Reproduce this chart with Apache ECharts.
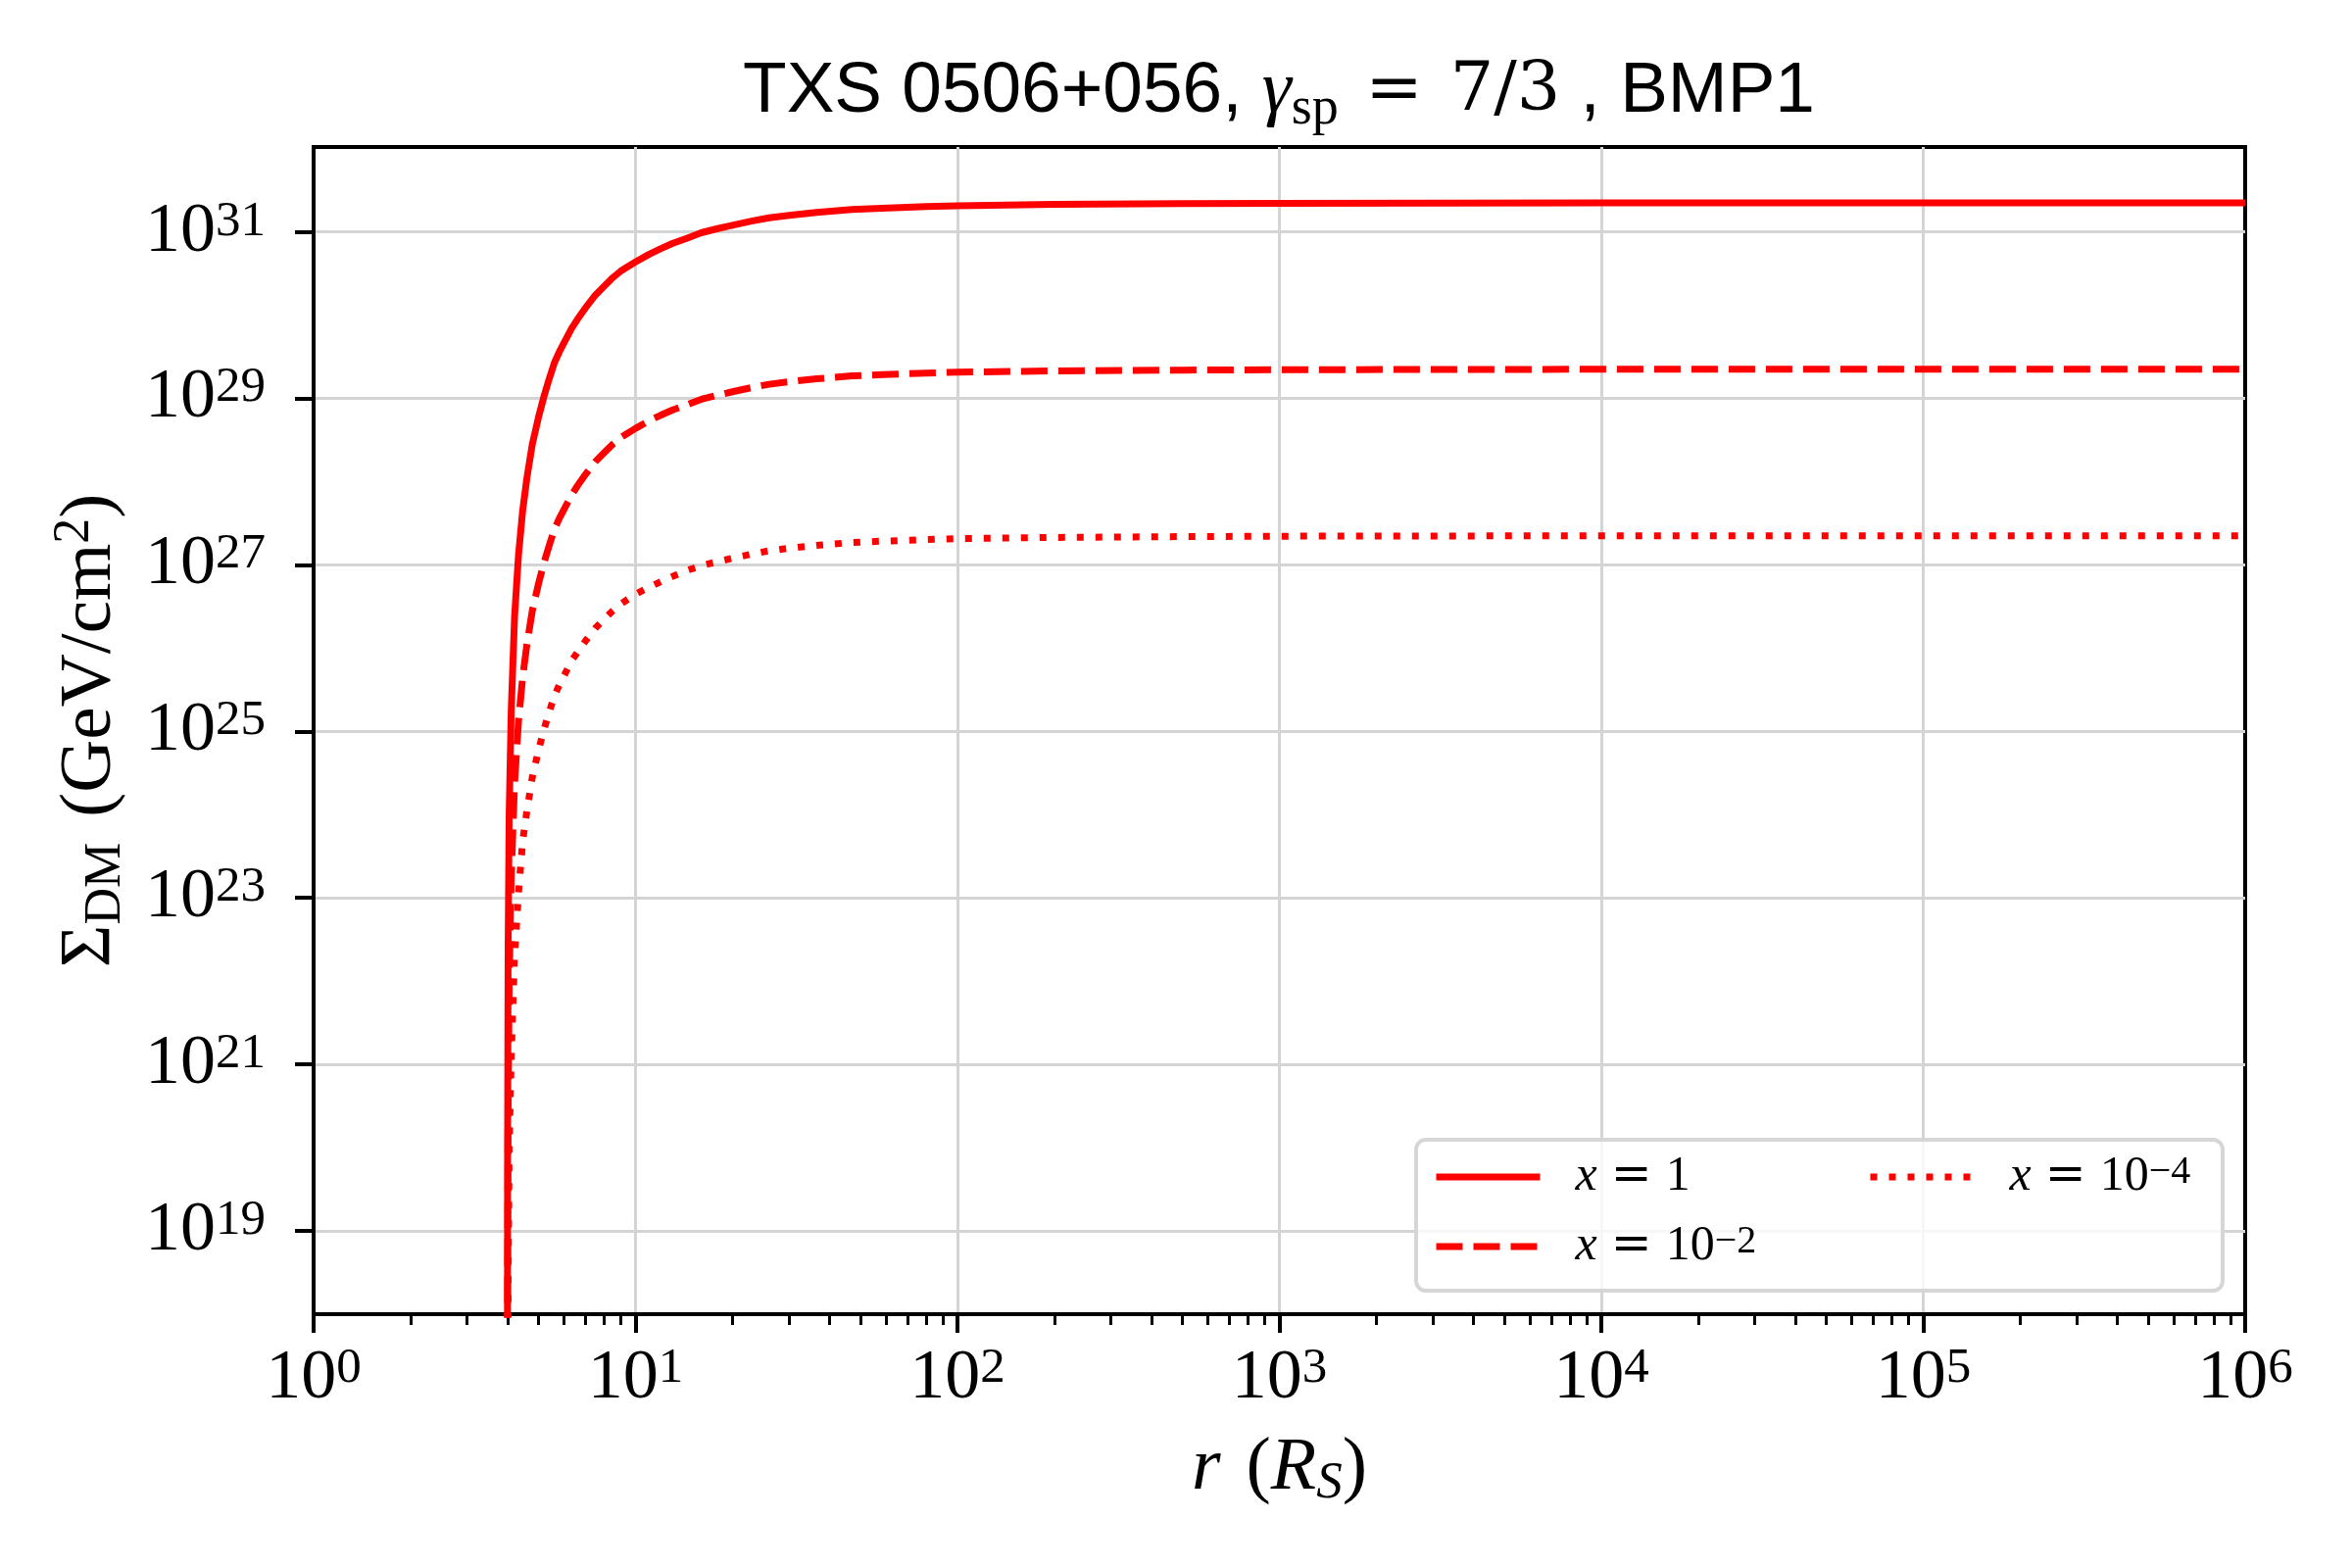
<!DOCTYPE html>
<html>
<head>
<meta charset="utf-8">
<script src="https://cdn.jsdelivr.net/npm/echarts@6/dist/echarts.min.js"></script>
<style>
html,body{margin:0;padding:0;background:#ffffff;}
#chart{width:2400px;height:1600px;}
</style>
</head>
<body>
<div id="chart"></div>
<script>
// ---- data (r in units of R_S, values are log10 of Sigma_DM in GeV/cm^2) ----
const rValues = [4.0015, 4.005, 4.02, 4.05, 4.11, 4.21, 4.33, 4.46, 4.6, 4.78, 5.0, 5.2, 5.38, 5.6, 5.8, 6.0, 6.33, 6.6, 7.0, 7.5, 8.0, 8.5, 9.0, 10, 11, 12, 13, 14.35, 16, 18, 20, 22.9, 26, 30, 36.5, 47, 58.3, 80, 100, 200, 500, 1000, 1e4, 1e5, 1e6];
const logSigmaX1 = [17.9, 20.0, 22.4, 24.0, 25.25, 26.38, 27.12, 27.65, 28.05, 28.45, 28.78, 29.03, 29.22, 29.43, 29.56, 29.67, 29.84, 29.95, 30.09, 30.24, 30.35, 30.45, 30.53, 30.64, 30.73, 30.8, 30.86, 30.92, 30.99, 31.04, 31.08, 31.13, 31.17, 31.2, 31.235, 31.27, 31.285, 31.305, 31.315, 31.33, 31.34, 31.343, 31.348, 31.35, 31.35];
const logSigmaX1em2 = [15.9, 18.0, 20.4, 22.0, 23.25, 24.38, 25.12, 25.65, 26.05, 26.45, 26.78, 27.03, 27.22, 27.43, 27.56, 27.67, 27.84, 27.95, 28.09, 28.24, 28.35, 28.45, 28.53, 28.64, 28.73, 28.8, 28.86, 28.92, 28.99, 29.04, 29.08, 29.13, 29.17, 29.2, 29.235, 29.27, 29.285, 29.305, 29.315, 29.33, 29.34, 29.345, 29.35, 29.35, 29.35];
const logSigmaX1em4 = [13.9, 16.0, 18.4, 20.0, 21.1, 22.3, 23.06, 23.68, 24.05, 24.45, 24.78, 25.03, 25.22, 25.43, 25.56, 25.67, 25.85, 25.95, 26.09, 26.24, 26.35, 26.45, 26.53, 26.65, 26.73, 26.8, 26.86, 26.93, 26.99, 27.04, 27.08, 27.13, 27.17, 27.2, 27.235, 27.27, 27.285, 27.305, 27.315, 27.33, 27.34, 27.345, 27.35, 27.35, 27.35];

const seriesNames = ['x = 1', 'x = 10^-2', 'x = 10^-4'];
const legendSup = {'x = 10^-2': '\u22122', 'x = 10^-4': '\u22124'};
const xTickExponents = [0, 1, 2, 3, 4, 5, 6];
const yTickExponents = [19, 21, 23, 25, 27, 29, 31];
const xMinorTicks = [];
for (let d = 0; d < 6; d++) { for (let k = 2; k <= 9; k++) { xMinorTicks.push(d + Math.log10(k)); } }

const SERIF = "'Liberation Serif', 'DejaVu Serif', serif";
const SERIF2 = "'DejaVu Serif', 'Liberation Serif', serif";
const SANS = "'Liberation Sans', 'DejaVu Sans', sans-serif";
const N = 'normal';

const toPairs = (vals) => rValues.map((r, i) => [Math.log10(r), vals[i]]);

const tickRich = {
  b: {fontFamily: SERIF, fontWeight: N, fontSize: 72, lineHeight: 72, color: '#000'},
  s: {fontFamily: SERIF, fontWeight: N, fontSize: 51, lineHeight: 32, verticalAlign: 'top', color: '#000'}
};
const tickFmt = (v) => '{b|10}{s|' + Math.round(v) + '}';

const legendRich = {
  sp: {width: 31},
  i: {fontFamily: SERIF, fontWeight: N, fontStyle: 'italic', fontSize: 50, lineHeight: 50, color: '#000'},
  eq: {fontFamily: SERIF2, fontWeight: N, fontSize: 50, lineHeight: 50, width: 70, align: 'center', color: '#000'},
  n: {fontFamily: SERIF, fontWeight: N, fontSize: 50, lineHeight: 50, color: '#000'},
  s: {fontFamily: SERIF, fontWeight: N, fontSize: 40, lineHeight: 28, verticalAlign: 'top', color: '#000'}
};
const legendFmt = (name) => {
  if (name === 'x = 1') return '{sp| }{i|x}{eq|=}{n|1}';
  return '{sp| }{i|x}{eq|=}{n|10}{s|' + legendSup[name] + '}';
};
const legendBase = {
  orient: 'vertical', padding: 0, itemWidth: 106, itemHeight: 50, itemGap: 21,
  lineStyle: {width: 7},
  itemStyle: {color: 'rgba(0,0,0,0)', borderWidth: 0, opacity: 0},
  formatter: legendFmt,
  textStyle: {rich: legendRich}, z: 5
};

const chart = echarts.init(document.getElementById('chart'), null, {renderer: 'canvas'});
chart.setOption({
  backgroundColor: '#ffffff',
  animation: false,
  title: {
    text: '{s|TXS 0506+056, }{g|\u03b3}{sub|sp}{eq|=}{m|7/3}{s| , BMP1}',
    left: 1305, textAlign: 'center', top: 49, padding: 0,
    textStyle: {
      fontWeight: N,
      rich: {
        s: {fontFamily: SANS, fontWeight: N, fontSize: 73, lineHeight: 90, color: '#000'},
        g: {fontFamily: SERIF, fontWeight: N, fontStyle: 'italic', fontSize: 76, lineHeight: 90, color: '#000'},
        sub: {fontFamily: SERIF, fontWeight: N, fontSize: 54, lineHeight: 50, verticalAlign: 'bottom', color: '#000'},
        eq: {fontFamily: SERIF2, fontWeight: N, fontSize: 70, lineHeight: 90, width: 114, align: 'center', color: '#000'},
        m: {fontFamily: SERIF2, fontWeight: N, fontSize: 70, lineHeight: 90, color: '#000'}
      }
    }
  },
  grid: [
    {left: 320, top: 150, width: 1971, height: 1191, show: true, borderColor: '#000', borderWidth: 4, backgroundColor: 'transparent'},
    {left: 320, top: 150, width: 1971, height: 1191, show: false}
  ],
  xAxis: [
    {
      type: 'value', gridIndex: 0, min: 0, max: 6, interval: 1, position: 'bottom',
      axisLine: {show: true, lineStyle: {color: '#000', width: 4}},
      axisTick: {show: true, length: 19, lineStyle: {color: '#000', width: 4}},
      axisLabel: {margin: 30, formatter: tickFmt, rich: tickRich},
      splitLine: {show: true, showMinLine: false, showMaxLine: false, lineStyle: {color: '#d4d4d4', width: 3}},
      name: '{i|r}{gap| }{n|(}{i|R}{sub|S}{n|)}',
      nameLocation: 'middle', nameGap: 116,
      nameTextStyle: {
        rich: {
          i: {fontFamily: SERIF, fontWeight: N, fontStyle: 'italic', fontSize: 76, lineHeight: 84, color: '#000'},
          n: {fontFamily: SERIF, fontWeight: N, fontSize: 76, lineHeight: 84, color: '#000'},
          gap: {fontSize: 76, lineHeight: 84, width: 26},
          sub: {fontFamily: SERIF, fontWeight: N, fontStyle: 'italic', fontSize: 53, lineHeight: 52, verticalAlign: 'bottom', color: '#000'}
        }
      }
    },
    {
      type: 'value', gridIndex: 1, min: 0, max: 6, position: 'bottom',
      axisLine: {show: false},
      axisTick: {show: true, length: 11, lineStyle: {color: '#000', width: 3}, customValues: xMinorTicks},
      axisLabel: {show: false},
      splitLine: {show: false}
    }
  ],
  yAxis: [
    {
      type: 'value', gridIndex: 0, min: 18, max: 32.02,
      axisLine: {show: true, lineStyle: {color: '#000', width: 4}},
      axisTick: {show: true, length: 19, lineStyle: {color: '#000', width: 4}, customValues: yTickExponents},
      axisLabel: {margin: 49, customValues: yTickExponents, formatter: tickFmt, rich: tickRich},
      splitLine: {show: true, lineStyle: {color: '#d4d4d4', width: 3}},
      name: '{n|\u03a3}{sub|DM}{gap| }{n|(GeV/cm}{sup|2}{n|)}',
      nameLocation: 'middle', nameRotate: 90, nameGap: 186,
      nameTextStyle: {
        rich: {
          n: {fontFamily: SERIF, fontWeight: N, fontSize: 75, lineHeight: 84, color: '#000'},
          gap: {fontSize: 75, lineHeight: 84, width: 26},
          sub: {fontFamily: SERIF, fontWeight: N, fontSize: 52, lineHeight: 52, verticalAlign: 'bottom', color: '#000'},
          sup: {fontFamily: SERIF, fontWeight: N, fontSize: 52, lineHeight: 36, verticalAlign: 'top', color: '#000'}
        }
      }
    },
    {type: 'value', gridIndex: 1, min: 18, max: 32.02, show: false}
  ],
  legend: [
    Object.assign({}, legendBase, {left: 1462, top: 1176, data: [seriesNames[0], seriesNames[1]]}),
    Object.assign({}, legendBase, {left: 1905, top: 1176, data: [seriesNames[2]]})
  ],
  graphic: [{
    type: 'rect', z: 3, silent: true,
    shape: {x: 1445, y: 1163, width: 823, height: 154, r: 10},
    style: {fill: 'rgba(255,255,255,0.8)', stroke: '#d6d6d6', lineWidth: 4}
  }],
  series: [
    {name: seriesNames[0], type: 'line', xAxisIndex: 0, yAxisIndex: 0, showSymbol: false, symbol: 'none', smooth: false,
     data: toPairs(logSigmaX1), lineStyle: {color: '#ff0000', width: 7, type: 'solid', join: 'round'}, itemStyle: {color: '#ff0000'}},
    {name: seriesNames[1], type: 'line', xAxisIndex: 0, yAxisIndex: 0, showSymbol: false, symbol: 'none', smooth: false,
     data: toPairs(logSigmaX1em2), lineStyle: {color: '#ff0000', width: 7, type: [27, 11], join: 'round'}, itemStyle: {color: '#ff0000'}},
    {name: seriesNames[2], type: 'line', xAxisIndex: 0, yAxisIndex: 0, showSymbol: false, symbol: 'none', smooth: false,
     data: toPairs(logSigmaX1em4), lineStyle: {color: '#ff0000', width: 7, type: [7, 12], join: 'round'}, itemStyle: {color: '#ff0000'}}
  ]
});
</script>
</body>
</html>
